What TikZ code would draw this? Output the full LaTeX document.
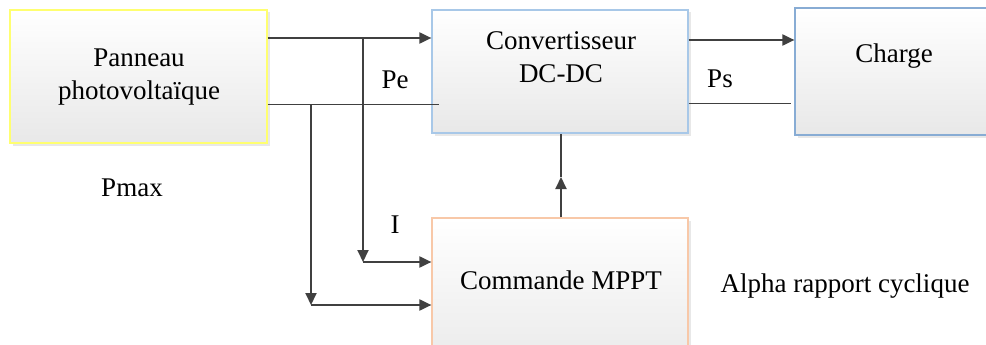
\documentclass[tikz,border=0pt]{standalone}
\usepackage{fontspec}
\setmainfont{Liberation Serif}
\usetikzlibrary{arrows.meta,shadows}
\definecolor{ln}{HTML}{404040}
\definecolor{pvc}{HTML}{FFFF70}
\definecolor{cvc}{HTML}{A8C8E8}
\definecolor{chc}{HTML}{88ACD4}
\definecolor{mpc}{HTML}{F8C8A8}
\tikzset{
  blockbox/.style={draw, line width=1.2pt, top color=white, bottom color=black!9, inner sep=0pt,
    drop shadow={opacity=0.18, shadow xshift=2.5pt, shadow yshift=-2.5pt}},
  lbl/.style={inner sep=0pt, align=center, font=\fontsize{27}{32.5}\selectfont},
  thickarrow/.style={draw=ln, line width=2pt, -{Triangle[length=12pt,width=11pt]}},
  thinline/.style={draw=ln, line width=1pt},
  thickline/.style={draw=ln, line width=2pt}
}
\begin{document}
\begin{tikzpicture}[x=1pt,y=-1pt]
\useasboundingbox (0,0) rectangle (986,345);
\clip (0,0) rectangle (986,345);
\fill[white] (0,0) rectangle (986,345);
% boxes
\node[blockbox, draw=pvc, minimum width=257pt, minimum height=133pt] (pv) at (138.5,76.5) {};
\node[blockbox, draw=cvc, minimum width=256pt, minimum height=123pt] (conv) at (560,71.5) {};
\node[blockbox, draw=chc, minimum width=240pt, minimum height=127pt] (charge) at (915,71.5) {};
\node[blockbox, draw=mpc, minimum width=256pt, minimum height=160pt] (mppt) at (560,298) {};
% texts
\node[lbl] (tpv) at (139,77) {Panneau\\photovoltaïque};
\node[lbl] (tconv) at (561,57) {Convertisseur\\DC-DC};
\node[lbl] (tcharge) at (894,56) {Charge};
\node[lbl] (tmppt) at (561,280) {Commande MPPT};
\node[lbl] (tpe) at (395,80) {Pe};
\node[lbl] (tps) at (720,79) {Ps};
\node[lbl] (tpmax) at (132,188) {Pmax};
\node[lbl] (ti) at (395,225) {I};
\node[lbl] (talpha) at (845,286) {Alpha rapport cyclique};
% coordinates
\coordinate (a1) at (363,38);
\coordinate (a2) at (363,262);
\coordinate (b1) at (311,105);
\coordinate (b2) at (311,305);
\coordinate (c1) at (561,177);
% connectors
\draw[thickarrow] (pv.east |- a1) -- (conv.west |- a1);
\draw[thinline] (pv.east |- b1) -- ([xshift=8pt]conv.west |- b1);
\draw[thickarrow] (a1) -- (a2);
\draw[thickarrow] (a2) -- (mppt.west |- a2);
\draw[thickarrow] (b1) -- (b2);
\draw[thickarrow] (b2) -- (mppt.west |- b2);
\draw[thickarrow] (conv.east |- 0,40) -- (charge.west |- 0,40);
\draw[thinline] (conv.east |- 0,104) -- ([xshift=-3pt]charge.west |- 0,104);
\draw[thickarrow] (mppt.north -| c1) -- (c1);
\draw[thickline] (c1) -- (conv.south -| c1);
\end{tikzpicture}
\end{document}
